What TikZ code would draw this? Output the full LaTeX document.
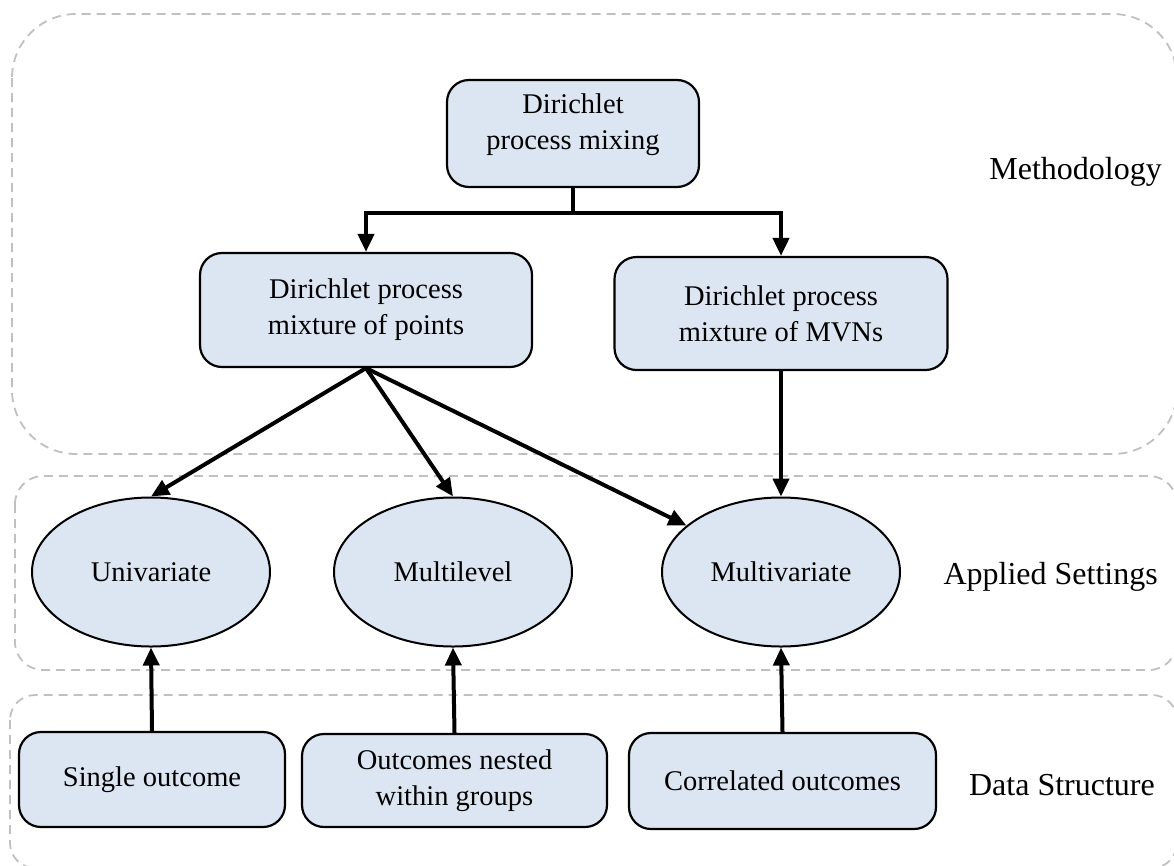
\documentclass[tikz,border=0pt]{standalone}
\usepackage{fontspec}
\setmainfont{Liberation Serif}
\usetikzlibrary{arrows.meta,shapes.geometric}
\definecolor{boxfill}{RGB}{220,230,242}
\definecolor{dashgray}{RGB}{192,192,192}
\newcommand{\ndfont}{\fontsize{28.5}{36}\selectfont}
\newcommand{\lbfont}{\fontsize{32}{38}\selectfont}
\begin{document}
\begin{tikzpicture}[x=1pt,y=-1pt,
 region/.style={draw=dashgray,line width=1.8pt,dash pattern=on 9pt off 6pt},
 box/.style={draw=black,fill=boxfill,line width=2.2pt,rounded corners=22pt,align=center,font=\ndfont,inner sep=0pt},
 oval/.style={ellipse,draw=black,fill=boxfill,line width=2pt,font=\ndfont,inner sep=0pt,minimum width=238pt,minimum height=149pt},
 arr/.style={line width=4pt,-{Triangle[length=18pt,width=16pt]}},
 lbl/.style={font=\lbfont,anchor=east,inner sep=0pt}]
\useasboundingbox (0,0) rectangle (1174,865);
% regions
\draw[region,rounded corners=64pt] (12,14) rectangle (1177,454);
\draw[region,rounded corners=28pt] (15,476) rectangle (1177,670);
\draw[region,rounded corners=25pt] (10,695) rectangle (1177,868);
% labels
\node[lbl] (lmeth) at (1162,172) {Methodology};
\node[lbl] (lapp) at (1158,577) {Applied Settings};
\node[lbl] (ldata) at (1155,785) {Data Structure};
% nodes
\node[box,minimum width=252pt,minimum height=107pt] (dpm) at (573,133.5) {Dirichlet\\process mixing\rule[-24pt]{0pt}{0pt}};
\node[box,minimum width=332pt,minimum height=114pt] (pts) at (366,310) {Dirichlet process\\mixture of points};
\node[box,minimum width=333pt,minimum height=113pt] (mvn) at (781,313.5) {Dirichlet process\\mixture of MVNs};
\node[oval] (uni) at (151,572) {Univariate};
\node[oval] (mlv) at (453,572) {Multilevel};
\node[oval] (mvt) at (781,572) {Multivariate};
\node[box,minimum width=266pt,minimum height=95pt] (single) at (152,779.5) {Single outcome};
\node[box,minimum width=305pt,minimum height=93pt] (nested) at (454.5,780.5) {Outcomes nested\\within groups};
\node[box,minimum width=307pt,minimum height=96pt] (corr) at (782.5,781) {Correlated outcomes};
% connectors
\coordinate (split) at (573,213);
\draw[line width=4pt] (dpm.south) -- (split);
\draw[arr] (split) -| (pts.north);
\draw[arr] (split) -| (mvn.north);
\draw[arr] (pts.south) -- (uni.north);
\draw[arr] (pts.south) -- (mlv.north);
\draw[arr] (pts.south) -- (mvt);
\draw[arr] (mvn.south) -- (mvt.north);
\draw[arr] (single.north) -- (uni.south);
\draw[arr] (nested.north) -- (mlv.south);
\draw[arr] (corr.north) -- (mvt.south);
\end{tikzpicture}
\end{document}
